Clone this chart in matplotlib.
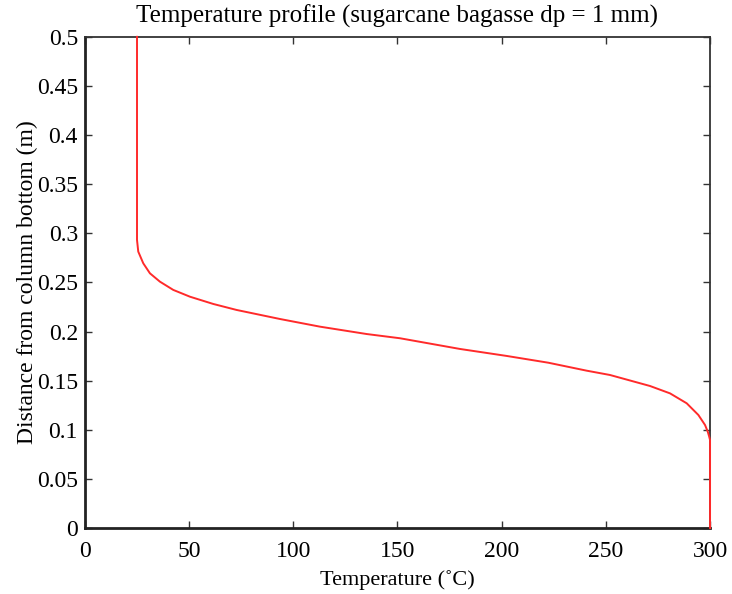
import matplotlib
matplotlib.use('Agg')
import matplotlib.pyplot as plt

# Temperature profile (deg C vs. height in m)
temperature = [25, 25, 25.6, 28, 31.2, 36, 42.4, 50.4, 61.6, 72.8, 93.6, 112.8,
               135.2, 151.2, 180, 202.4, 222.4, 240.8, 252, 271.2, 280.8, 288.8,
               294.4, 297.6, 298.9, 299.6, 300, 300]
height = [0.5, 0.2933, 0.2814, 0.2695, 0.2593, 0.2508, 0.2424, 0.2355, 0.2281,
          0.222, 0.2128, 0.205, 0.1975, 0.1932, 0.1823, 0.1752, 0.1683, 0.1602,
          0.1558, 0.1446, 0.1371, 0.127, 0.1151, 0.1049, 0.0981, 0.093, 0.0896, 0.0]

x_ticks = [0, 50, 100, 150, 200, 250, 300]
y_ticks = [0, 0.05, 0.1, 0.15, 0.2, 0.25, 0.3, 0.35, 0.4, 0.45, 0.5]
y_labels = ['0', '0.05', '0.1', '0.15', '0.2', '0.25', '0.3', '0.35', '0.4', '0.45', '0.5']

plt.rcParams['font.family'] = ['Liberation Serif', 'DejaVu Serif']

fig = plt.figure(figsize=(7.32, 5.94), dpi=100)
ax = fig.add_axes([0.116, 0.111, 0.854, 0.827])

ax.plot(temperature, height, color='#ff2a2a', linewidth=1.4, clip_on=False, zorder=5)

ax.set_xlim(0, 300)
ax.set_ylim(0, 0.5)
ax.set_xticks(x_ticks)
ax.set_yticks(y_ticks)
ax.set_yticklabels(y_labels)

ax.tick_params(direction='in', top=True, right=True, length=5, width=1,
               labelsize=17, colors='#333333', labelcolor='black')
ax.tick_params(axis='x', pad=9)
ax.tick_params(axis='y', pad=5)
for side in ['left', 'bottom']:
    ax.spines[side].set_linewidth(2)
    ax.spines[side].set_color('#222222')
for side in ['top', 'right']:
    ax.spines[side].set_linewidth(1.3)
    ax.spines[side].set_color('#333333')

ax.set_title('Temperature profile (sugarcane bagasse dp = 1 mm)', fontsize=18, pad=10)
ax.set_xlabel('Temperature (˚C)', fontsize=16, labelpad=6)
ax.set_ylabel('Distance from column bottom (m)', fontsize=17, labelpad=-1)

plt.savefig('out.png', dpi=100)
